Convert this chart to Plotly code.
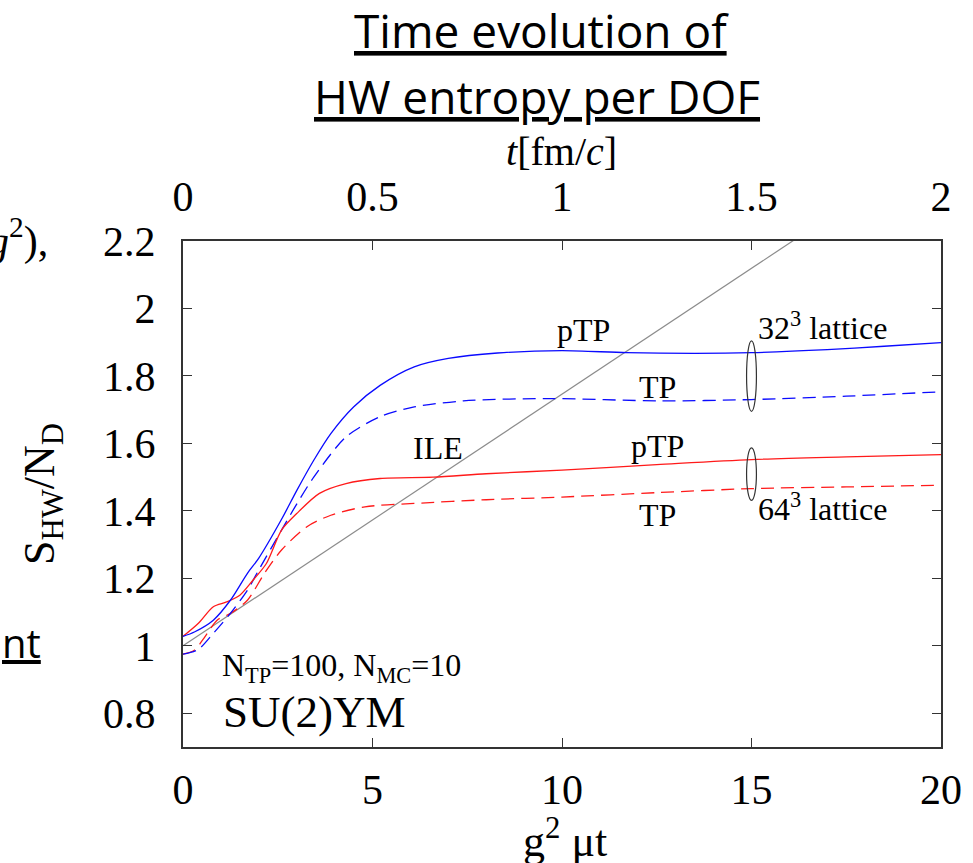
import numpy as np
import plotly.graph_objects as go

# ---- data: HW entropy per degree of freedom vs g^2 mu t ----
# 32^3 lattice, pTP (solid blue)
x_32_ptp = [0, 0.3, 0.8, 1.25, 1.7, 2.0, 2.6, 3.0, 3.45, 3.9, 4.5, 5.2, 6.1, 7.0, 8.3, 10.0, 11.7, 13.5, 15.0, 17.0, 18.5, 20.0]
s_32_ptp = [1.028, 1.041, 1.076, 1.135, 1.215, 1.26, 1.375, 1.46, 1.55, 1.629, 1.708, 1.772, 1.827, 1.852, 1.868, 1.875, 1.869, 1.867, 1.869, 1.878, 1.888, 1.899]

# 32^3 lattice, TP (dashed blue)
x_32_tp = [0, 0.4, 0.8, 1.25, 1.7, 2.0, 2.6, 3.0, 3.45, 4.3, 5.2, 6.1, 7.4, 9.6, 12.6, 15.0, 17.5, 20.0]
s_32_tp = [0.975, 0.989, 1.037, 1.096, 1.165, 1.225, 1.343, 1.42, 1.50, 1.619, 1.679, 1.708, 1.726, 1.733, 1.726, 1.73, 1.74, 1.753]

# 64^3 lattice, pTP (solid red)
x_64_ptp = [0, 0.4, 0.8, 1.15, 1.5, 1.85, 2.2, 2.6, 3.0, 3.6, 4.3, 5.2, 6.6, 8.0, 10.0, 12.5, 15.0, 17.5, 20.0]
s_64_ptp = [1.028, 1.066, 1.116, 1.13, 1.15, 1.195, 1.244, 1.343, 1.392, 1.452, 1.481, 1.496, 1.50, 1.51, 1.521, 1.537, 1.552, 1.56, 1.567]

# 64^3 lattice, TP (dashed red)
x_64_tp = [0, 0.3, 0.55, 0.9, 1.25, 1.7, 2.15, 2.6, 3.27, 3.9, 4.8, 6.1, 8.0, 10.0, 12.5, 15.0, 17.5, 20.0]
s_64_tp = [0.975, 0.987, 1.022, 1.076, 1.096, 1.135, 1.215, 1.284, 1.353, 1.387, 1.412, 1.422, 1.433, 1.441, 1.454, 1.466, 1.471, 1.476]

# ILE reference line (straight)
x_ile = [0, 20]
s_ile = [1.0, 2.492]

# axis ticks
x_ticks = [0, 5, 10, 15, 20]
y_ticks = [0.8, 1.0, 1.2, 1.4, 1.6, 1.8, 2.0, 2.2]
y_ticktext = ["0.8", "1", "1.2", "1.4", "1.6", "1.8", "2", "2.2"]
t_ticks = [0, 0.5, 1, 1.5, 2]
t_ticktext = ["0", "0.5", "1", "1.5", "2"]

SERIF = "Liberation Serif"
SANS = "Open Sans"
BLUE = "#0a0aff"
RED = "#ff1a1a"
FRAME = "#333333"

W, H = 973, 863
ML, MR, MT, MB = 183, 32, 241, 116
PW, PH = W - ML - MR, H - MT - MB


def paper(px, py):
    """Pixel position on the page -> paper coordinates."""
    return (px - ML) / PW, (H - MB - py) / PH


fig = go.Figure()

fig.add_trace(go.Scatter(x=x_ile, y=s_ile, mode="lines",
                         line=dict(color="#8c8c8c", width=1.2)))
fig.add_trace(go.Scatter(x=x_64_tp, y=s_64_tp, mode="lines",
                         line=dict(color=RED, width=1.3, dash="13px,7px",
                                   shape="spline", smoothing=0.8)))
fig.add_trace(go.Scatter(x=x_32_tp, y=s_32_tp, mode="lines",
                         line=dict(color=BLUE, width=1.3, dash="13px,7px",
                                   shape="spline", smoothing=0.8)))
fig.add_trace(go.Scatter(x=x_64_ptp, y=s_64_ptp, mode="lines",
                         line=dict(color=RED, width=1.3,
                                   shape="spline", smoothing=0.8)))
fig.add_trace(go.Scatter(x=x_32_ptp, y=s_32_ptp, mode="lines",
                         line=dict(color=BLUE, width=1.3,
                                   shape="spline", smoothing=0.8)))
# invisible trace to carry the top t[fm/c] axis
fig.add_trace(go.Scatter(x=t_ticks, y=[None] * len(t_ticks), xaxis="x2",
                         mode="lines", showlegend=False, hoverinfo="skip"))

# ellipses grouping pTP/TP pairs at g^2 mu t = 15
x_group = 15.0
for xs_p, ys_p, xs_t, ys_t in [(x_32_ptp, s_32_ptp, x_32_tp, s_32_tp),
                               (x_64_ptp, s_64_ptp, x_64_tp, s_64_tp)]:
    top = float(np.interp(x_group, xs_p, ys_p)) + 0.035
    bot = float(np.interp(x_group, xs_t, ys_t)) - 0.035
    fig.add_shape(type="circle", xref="x", yref="y",
                  x0=x_group - 0.13, x1=x_group + 0.13, y0=bot, y1=top,
                  line=dict(color=FRAME, width=1.2))

ann_font = dict(family=SERIF, size=32, color="black")
plot_labels = [
    (10.56, 1.935, "pTP", "center"),
    (12.51, 1.767, "TP", "center"),
    (6.74, 1.586, "ILE", "center"),
    (12.51, 1.592, "pTP", "center"),
    (12.51, 1.387, "TP", "center"),
    (15.12, 1.948, "32<sup>3</sup> lattice", "left"),
    (15.12, 1.41, "64<sup>3</sup> lattice", "left"),
]
for x, y, txt, anc in plot_labels:
    fig.add_annotation(x=x, y=y, xref="x", yref="y", text=txt, showarrow=False,
                       xanchor=anc, yanchor="middle", font=ann_font)

fig.add_annotation(x=0.98, y=0.935, xref="x", yref="y",
                   text="N<sub>TP</sub>=100, N<sub>MC</sub>=10", showarrow=False,
                   xanchor="left", yanchor="middle",
                   font=dict(family=SERIF, size=32, color="black"))
fig.add_annotation(x=1.0, y=0.803, xref="x", yref="y", text="SU(2)YM",
                   showarrow=False, xanchor="left", yanchor="middle",
                   font=dict(family=SERIF, size=45, color="black"))

# text around the frame (titles, axis names, neighbouring slide text)
outer = [
    (541.5, 29.5, "<u>Time evolution of</u>", "center", dict(family=SANS, size=46, color="black")),
    (537, 96, "<u>HW entropy per DOF</u>", "center", dict(family=SANS, size=46, color="black")),
    (561, 152, "<i>t</i>[fm/<i>c</i>]", "center", dict(family=SERIF, size=40, color="black")),
    (565, 838, "g<sup>2</sup> μt", "center", dict(family=SERIF, size=44, color="black")),
    (50, 238, "<i>g</i><sup>2</sup>),", "right", dict(family=SERIF, size=42, color="black")),
    (43, 642, "<u>nt</u>", "right", dict(family=SANS, size=40, color="black")),
]
for px, py, txt, anc, fnt in outer:
    xp, yp = paper(px, py)
    fig.add_annotation(x=xp, y=yp, xref="paper", yref="paper", text=txt,
                       showarrow=False, xanchor=anc, yanchor="middle", font=fnt)

xp, yp = paper(42, 494)
fig.add_annotation(x=xp, y=yp, xref="paper", yref="paper",
                   text="S<sub>HW</sub>/N<sub>D</sub>", showarrow=False,
                   xanchor="center", yanchor="middle", textangle=-90,
                   font=dict(family=SERIF, size=44, color="black"))

tick_font = dict(family=SERIF, size=42, color="black")
fig.update_layout(
    width=W, height=H,
    margin=dict(l=ML, r=MR, t=MT, b=MB),
    paper_bgcolor="white", plot_bgcolor="white",
    showlegend=False,
    xaxis=dict(range=[0, 20], tickvals=x_ticks, ticks="inside", ticklen=9,
               tickwidth=1, tickcolor=FRAME, showline=True, linecolor=FRAME,
               linewidth=2, mirror="ticks", showgrid=False, zeroline=False,
               tickfont=tick_font, ticklabelstandoff=5),
    xaxis2=dict(range=[0, 2], tickvals=t_ticks, ticktext=t_ticktext,
                overlaying="x", side="top", ticks="", showline=False,
                showgrid=False, zeroline=False, tickfont=tick_font,
                ticklabelstandoff=21),
    yaxis=dict(range=[0.7, 2.2], tickvals=y_ticks, ticktext=y_ticktext,
               ticks="inside", ticklen=9, tickwidth=1, tickcolor=FRAME,
               showline=True, linecolor=FRAME, linewidth=2, mirror="ticks",
               showgrid=False, zeroline=False, tickfont=tick_font,
               ticklabelstandoff=17),
)

fig.write_html("out.html")
